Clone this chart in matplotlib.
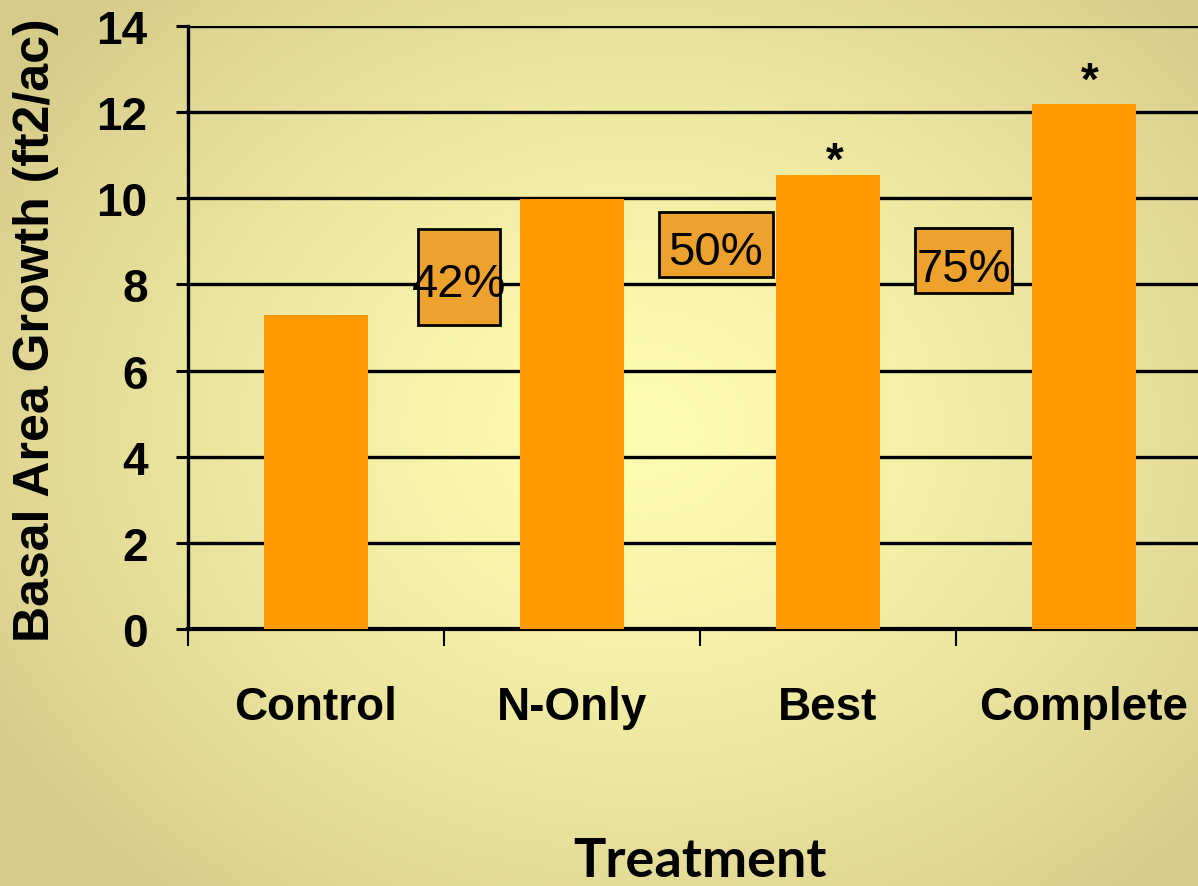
import numpy as np
import matplotlib
matplotlib.use("Agg")
import matplotlib.pyplot as plt
from matplotlib.patches import Rectangle

# ---- data ----
categories = ["Control", "N-Only", "Best", "Complete"]
values = [7.3, 9.98, 10.55, 12.2]
yticks = [0, 2, 4, 6, 8, 10, 12, 14]
pct_labels = ["42%", "50%", "75%"]
pct_text_x = [0.56, 1.56, 2.53]
pct_text_y = [7.73, 8.47, 8.08]
pct_box_x0 = [0.40, 1.34, 2.34]
pct_box_x1 = [0.72, 1.785, 2.72]
pct_box_y0 = [7.06, 8.17, 7.80]
pct_box_y1 = [9.29, 9.68, 9.31]
star_idx = [2, 3]

plt.rcParams['font.family'] = ['Liberation Sans', 'DejaVu Sans']

W, H = 1198, 887
fig = plt.figure(figsize=(W / 100, H / 100), dpi=100)

# background radial gradient
bg = fig.add_axes([0, 0, 1, 1], zorder=-10)
yy, xx = np.mgrid[0:H, 0:W]
d = np.sqrt(((xx - 640) / 760.0) ** 2 + ((yy - 430) / 620.0) ** 2)
d = np.clip(d, 0, 1)
c_in = np.array([255, 253, 178]) / 255.0
c_out = np.array([214, 204, 138]) / 255.0
img = c_in[None, None, :] * (1 - d[..., None] ** 1.3) + c_out[None, None, :] * (d[..., None] ** 1.3)
bg.imshow(img, aspect='auto', extent=[0, 1, 0, 1])
bg.axis('off')

left = 188 / W
bottom = (H - 630) / H
width = 1024 / W
height = 603 / H
ax = fig.add_axes([left, bottom, width, height])
ax.patch.set_alpha(0)

x = np.arange(len(categories))
ax.bar(x, values, width=0.41, color='#FF9900', zorder=3)

ax.set_xlim(-0.5, 3.5)
ax.set_ylim(0, 14)
ax.set_yticks(yticks)
ax.set_yticklabels([str(v) for v in yticks], fontsize=33, fontweight='bold')
ax.yaxis.grid(True, color='black', linewidth=2.4)
ax.set_axisbelow(True)

ax.set_xticks(x)
ax.set_xticklabels(categories, fontsize=33, fontweight='bold')
ax.set_xticks(np.arange(-0.5, 4.0, 1.0), minor=True)
ax.tick_params(axis='x', which='major', length=0, pad=40)
ax.tick_params(axis='x', which='minor', length=12, width=1.5, color='black', direction='out')
ax.tick_params(axis='y', which='major', length=9, width=2.2, color='black', pad=20)

for s in ['top', 'right']:
    ax.spines[s].set_visible(False)
ax.spines['left'].set_linewidth(2.4)
ax.spines['bottom'].set_linewidth(3.0)

for lab, tx, ty, x0, x1, y0, y1 in zip(pct_labels, pct_text_x, pct_text_y,
                                         pct_box_x0, pct_box_x1, pct_box_y0, pct_box_y1):
    ax.add_patch(Rectangle((x0, y0), x1 - x0, y1 - y0, facecolor='#EEA22E',
                           edgecolor='black', linewidth=2, zorder=4))
    ax.text(tx, ty, lab, ha='center', va='baseline', fontsize=34, zorder=5, color='black')

star_off = {2: (5, 1), 3: (4, 7)}
for i in star_idx:
    ax.annotate('*', xy=(x[i], values[i]), xytext=star_off[i], textcoords='offset points',
                ha='center', va='baseline', fontsize=33, fontweight='bold', zorder=5)

fig.text(36 / W, 1 - 330 / H, 'Basal Area Growth (ft2/ac)', rotation=90,
         ha='center', va='center', fontsize=36, fontweight='bold')
fig.text(700 / W, 1 - 877 / H, 'Treatment', ha='center', va='baseline',
         fontsize=39, fontweight='bold', family=['Lato', 'DejaVu Sans'])

fig.savefig('out.png', dpi=100)
